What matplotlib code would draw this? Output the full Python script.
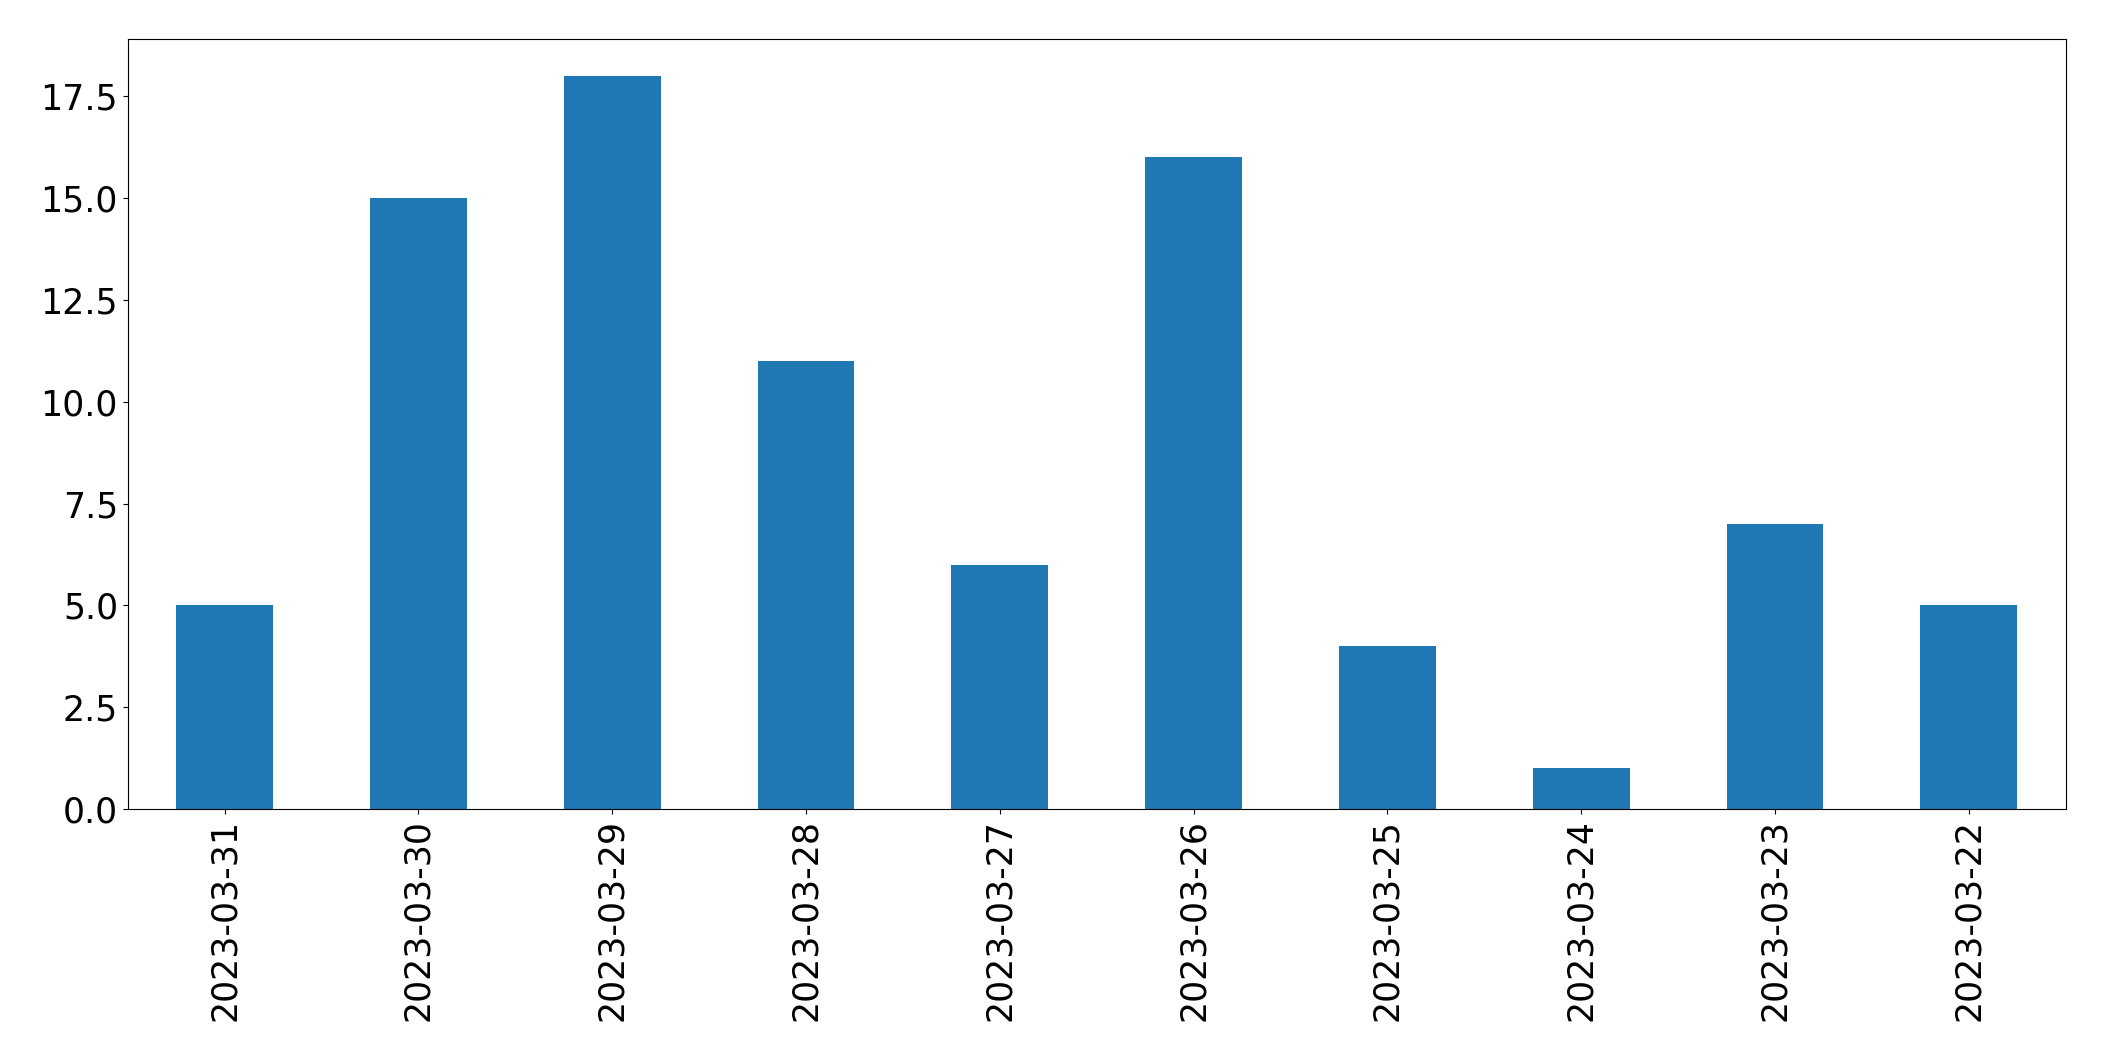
import numpy as np
import matplotlib
matplotlib.use("Agg")
import matplotlib.pyplot as plt

dates = ["2023-03-31", "2023-03-30", "2023-03-29", "2023-03-28", "2023-03-27",
         "2023-03-26", "2023-03-25", "2023-03-24", "2023-03-23", "2023-03-22"]
counts = [5, 15, 18, 11, 6, 16, 4, 1, 7, 5]

fig = plt.figure(figsize=(21.04, 10.61), dpi=100)
ax = fig.add_axes([0.0607, 0.2375, 0.9211, 0.7255])

x = np.arange(len(dates))
ax.bar(x, counts, width=0.5, color="#1f77b4")
ax.set_xlim(-0.5, len(dates) - 0.5)
ax.set_xticks(x)
ax.set_xticklabels(dates, rotation=90)
ax.tick_params(labelsize=25)

fig.savefig("out.png", dpi=100)
